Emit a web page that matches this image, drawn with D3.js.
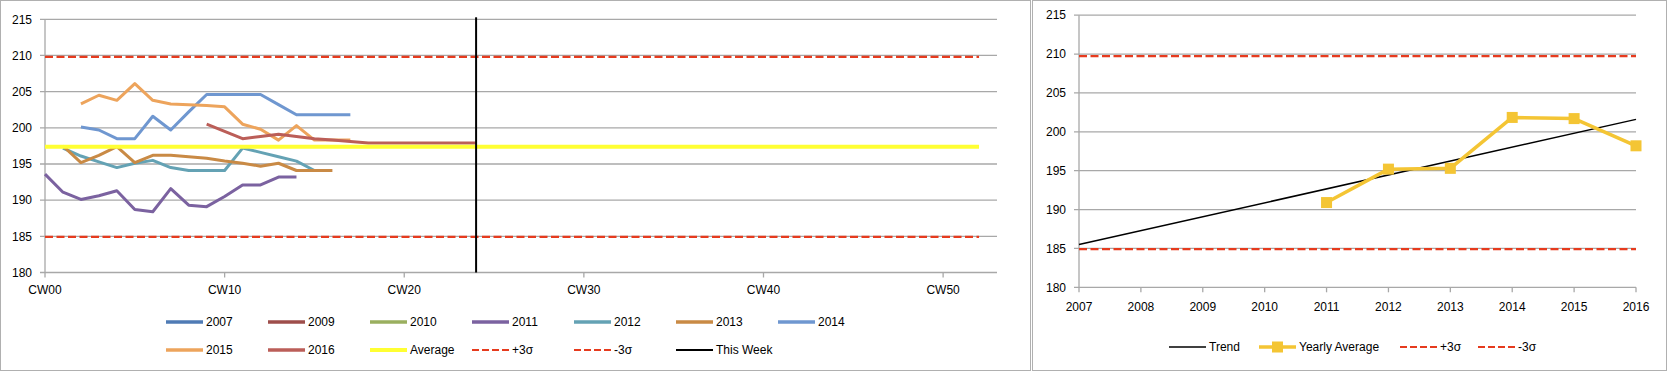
<!DOCTYPE html>
<html>
<head>
<meta charset="utf-8">
<script src="https://cdn.jsdelivr.net/npm/d3@7"></script>
<style>
  body { margin: 0; background: #fff; }
  svg text { font-family: "Liberation Sans", Arial, sans-serif; font-size: 12px; fill: #000; }
</style>
</head>
<body>
<div id="container"></div>
<script>
// ---- weekly chart data ----
const weekTicks = [0, 10, 20, 30, 40, 50];
const weekTickLabels = ["CW00", "CW10", "CW20", "CW30", "CW40", "CW50"];
const yTicks = [180, 185, 190, 195, 200, 205, 210, 215];

const seriesNames  = ["2007", "2009", "2010", "2011", "2012", "2013", "2014", "2015", "2016"];
const seriesColors = ["#4F7BB5", "#9E4E4B", "#9AAF5F", "#7B62A0", "#64A2B4", "#C98A45", "#6F97D0", "#EDA45C", "#BB5E58"];
const seriesStart  = [0, 0, 0, 0, 1, 1, 2, 2, 9];

const v2007 = [];
const v2009 = [];
const v2010 = [];
const v2011 = [193.6, 191.1, 190.1, 190.6, 191.3, 188.7, 188.4, 191.6, 189.3, 189.1, 190.5, 192.1, 192.1, 193.2, 193.2];
const v2012 = [197.2, 196.1, 195.3, 194.5, 195.1, 195.5, 194.5, 194.1, 194.1, 194.1, 197.2, 196.6, 196.0, 195.4, 194.1];
const v2013 = [197.5, 195.2, 196.2, 197.4, 195.2, 196.2, 196.2, 196.0, 195.8, 195.4, 195.1, 194.7, 195.1, 194.1, 194.1, 194.1];
const v2014 = [200.1, 199.7, 198.5, 198.5, 201.6, 199.7, 202.2, 204.6, 204.6, 204.6, 204.6, 203.2, 201.8, 201.8, 201.8, 201.8];
const v2015 = [203.3, 204.5, 203.8, 206.1, 203.8, 203.3, 203.2, 203.1, 202.9, 200.5, 199.8, 198.3, 200.3, 198.3, 198.3, 198.3];
const v2016 = [200.5, 199.5, 198.5, 198.8, 199.1, 198.8, 198.5, 198.3, 198.1, 197.9, 197.9, 197.9, 197.9, 197.9, 197.9, 197.9];
const seriesValues = [v2007, v2009, v2010, v2011, v2012, v2013, v2014, v2015, v2016];

const averageValue = 197.38;
const plusSigma = 209.8;
const minusSigma = 184.93;
const thisWeek = 24;
const lastWeek = 52;

// ---- yearly chart data ----
const years = [2007, 2008, 2009, 2010, 2011, 2012, 2013, 2014, 2015, 2016];
const yearlyAverage = [null, null, null, null, 190.9, 195.2, 195.3, 201.85, 201.7, 198.2];
const trendEnds = [185.5, 201.6];
const plusSigmaYear = 209.73;
const minusSigmaYear = 184.9;

const width = 1669, height = 372;
const red = "#E63B1E", gridColor = "#A8A8A8";

const svg = d3.select("#container").append("svg")
    .attr("width", width)
    .attr("height", height);

// chart frames
svg.append("rect").attr("x", 0.5).attr("y", 0.5).attr("width", 1030).attr("height", 370)
    .attr("fill", "none").attr("stroke", "#B0B0B0");
svg.append("rect").attr("x", 1032.5).attr("y", 0.5).attr("width", 1134).attr("height", 370)
    .attr("fill", "none").attr("stroke", "#B0B0B0");
svg.select("rect:nth-child(2)").attr("width", 634);

// ================= left: weekly chart =================
const x = d3.scaleLinear().domain([0, 53]).range([45, 997]);
const y = d3.scaleLinear().domain([180, 215]).range([272.5, 19.3]);
const left = svg.append("g");

yTicks.forEach(t => {
    left.append("line")
        .attr("x1", x(0) - 5).attr("x2", x(53))
        .attr("y1", y(t)).attr("y2", y(t))
        .attr("stroke", gridColor).attr("stroke-width", 1.3);
    left.append("text")
        .attr("x", 32).attr("y", y(t)).attr("dy", "0.35em")
        .attr("text-anchor", "end")
        .text(t);
});
left.append("line")
    .attr("x1", x(0)).attr("x2", x(0))
    .attr("y1", y(215)).attr("y2", y(180))
    .attr("stroke", gridColor).attr("stroke-width", 1.3);

weekTicks.forEach((w, i) => {
    left.append("line")
        .attr("x1", x(w)).attr("x2", x(w))
        .attr("y1", y(180)).attr("y2", y(180) + 5)
        .attr("stroke", gridColor).attr("stroke-width", 1.3);
    left.append("text")
        .attr("x", x(w)).attr("y", 294)
        .attr("text-anchor", "middle")
        .text(weekTickLabels[i]);
});

// sigma limits and average
[plusSigma, minusSigma].forEach(v => {
    left.append("line")
        .attr("x1", x(0)).attr("x2", x(lastWeek))
        .attr("y1", y(v)).attr("y2", y(v))
        .attr("stroke", red).attr("stroke-width", 2.2)
        .attr("stroke-dasharray", "8,3.5");
});

const line = d3.line().x(d => x(d[0])).y(d => y(d[1]));

seriesValues.forEach((vals, i) => {
    if (!vals.length) return;
    const pts = vals.map((v, j) => [seriesStart[i] + j, v]);
    left.append("path")
        .attr("d", line(pts))
        .attr("fill", "none")
        .attr("stroke", seriesColors[i])
        .attr("stroke-width", 3)
        .attr("stroke-linejoin", "round");
});

left.append("line")
    .attr("x1", x(0)).attr("x2", x(lastWeek))
    .attr("y1", y(averageValue)).attr("y2", y(averageValue))
    .attr("stroke", "#FFFF33").attr("stroke-width", 4);

left.append("line")
    .attr("x1", x(thisWeek)).attr("x2", x(thisWeek))
    .attr("y1", y(215) - 2).attr("y2", y(180))
    .attr("stroke", "#000").attr("stroke-width", 2);

// legend
const legendItems = seriesNames.map((n, i) => ({ name: n, color: seriesColors[i], dash: null, w: 3.5 }))
    .concat([
        { name: "Average", color: "#FFFF33", dash: null, w: 4 },
        { name: "+3σ", color: red, dash: "7,3", w: 2.2 },
        { name: "-3σ", color: red, dash: "7,3", w: 2.2 },
        { name: "This Week", color: "#000", dash: null, w: 2.2 }
    ]);
legendItems.forEach((d, i) => {
    const col = i < 7 ? i : i - 7;
    const lx = 166 + col * 102;
    const ly = i < 7 ? 322 : 350;
    left.append("line")
        .attr("x1", lx).attr("x2", lx + 37)
        .attr("y1", ly).attr("y2", ly)
        .attr("stroke", d.color).attr("stroke-width", d.w)
        .attr("stroke-dasharray", d.dash);
    left.append("text")
        .attr("x", lx + 40).attr("y", ly).attr("dy", "0.35em")
        .text(d.name);
});

// ================= right: yearly chart =================
const xr = d3.scaleLinear().domain([2007, 2016]).range([1079, 1636]);
const yr = d3.scaleLinear().domain([180, 215]).range([287.3, 15.2]);
const right = svg.append("g");

yTicks.forEach(t => {
    right.append("line")
        .attr("x1", xr(2007) - 5).attr("x2", xr(2016))
        .attr("y1", yr(t)).attr("y2", yr(t))
        .attr("stroke", gridColor).attr("stroke-width", 1.3);
    right.append("text")
        .attr("x", 1066).attr("y", yr(t)).attr("dy", "0.35em")
        .attr("text-anchor", "end")
        .text(t);
});
right.append("line")
    .attr("x1", xr(2007)).attr("x2", xr(2007))
    .attr("y1", yr(215)).attr("y2", yr(180))
    .attr("stroke", gridColor).attr("stroke-width", 1.3);

years.forEach(yy => {
    right.append("line")
        .attr("x1", xr(yy)).attr("x2", xr(yy))
        .attr("y1", yr(180)).attr("y2", yr(180) + 5)
        .attr("stroke", gridColor).attr("stroke-width", 1.3);
    right.append("text")
        .attr("x", xr(yy)).attr("y", 311)
        .attr("text-anchor", "middle")
        .text(yy);
});

[plusSigmaYear, minusSigmaYear].forEach(v => {
    right.append("line")
        .attr("x1", xr(2007)).attr("x2", xr(2016))
        .attr("y1", yr(v)).attr("y2", yr(v))
        .attr("stroke", red).attr("stroke-width", 2.2)
        .attr("stroke-dasharray", "8,3.5");
});

right.append("line")
    .attr("x1", xr(2007)).attr("x2", xr(2016))
    .attr("y1", yr(trendEnds[0])).attr("y2", yr(trendEnds[1]))
    .attr("stroke", "#000").attr("stroke-width", 1.5);

const yearLine = d3.line()
    .defined(d => d[1] !== null)
    .x(d => xr(d[0])).y(d => yr(d[1]));
const yearPts = years.map((yy, i) => [yy, yearlyAverage[i]]);
const gold = "#F4C534";
right.append("path")
    .attr("d", yearLine(yearPts))
    .attr("fill", "none")
    .attr("stroke", gold)
    .attr("stroke-width", 3.5)
    .attr("stroke-linejoin", "round");
right.selectAll("rect.mark")
    .data(yearPts.filter(d => d[1] !== null))
    .join("rect")
    .attr("class", "mark")
    .attr("x", d => xr(d[0]) - 5.5).attr("y", d => yr(d[1]) - 5.5)
    .attr("width", 11).attr("height", 11)
    .attr("fill", gold);

// right legend
const rLegend = [
    { name: "Trend", x: 1169, color: "#000", dash: null, w: 1.5, marker: false },
    { name: "Yearly Average", x: 1259, color: gold, dash: null, w: 3.5, marker: true },
    { name: "+3σ", x: 1400, color: red, dash: "7,3", w: 2.2, marker: false },
    { name: "-3σ", x: 1478, color: red, dash: "7,3", w: 2.2, marker: false }
];
rLegend.forEach(d => {
    const ly = 347;
    right.append("line")
        .attr("x1", d.x).attr("x2", d.x + 37)
        .attr("y1", ly).attr("y2", ly)
        .attr("stroke", d.color).attr("stroke-width", d.w)
        .attr("stroke-dasharray", d.dash);
    if (d.marker) {
        right.append("rect")
            .attr("x", d.x + 18.5 - 5.5).attr("y", ly - 5.5)
            .attr("width", 11).attr("height", 11)
            .attr("fill", d.color);
    }
    right.append("text")
        .attr("x", d.x + 40).attr("y", ly).attr("dy", "0.35em")
        .text(d.name);
});
</script>
</body>
</html>
